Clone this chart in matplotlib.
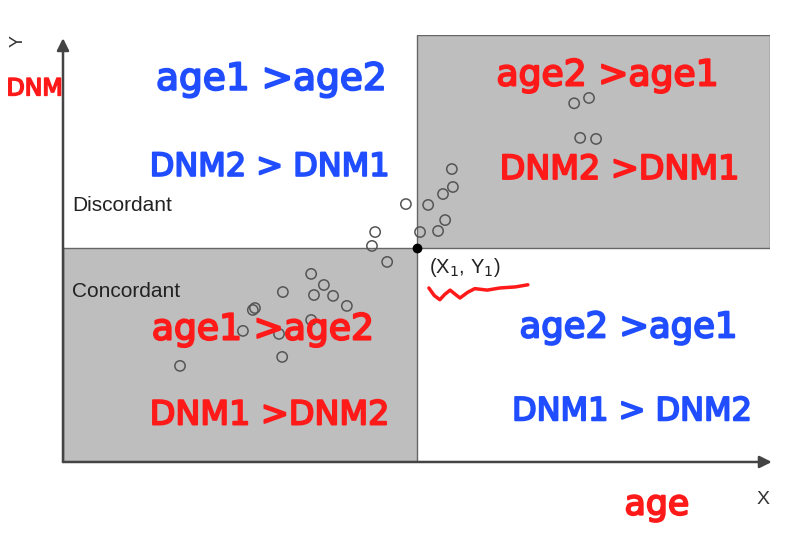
import matplotlib.pyplot as plt
from matplotlib.patches import Rectangle
import matplotlib.patheffects as pe

# scatter points (age, DNM), the reference pair sits at (10, 10)
age = [14.46, 14.88, 14.63, 15.08,
       11.0, 11.03, 10.75, 9.70, 10.33, 10.81, 8.83, 10.10, 10.61, 8.74, 9.17,
       7.02, 6.22, 7.38, 7.10, 7.64, 8.03, 5.43, 5.37, 5.09, 6.11, 7.02, 6.20, 3.31]
dnm = [16.8, 17.05, 15.18, 15.13,
       13.72, 12.88, 12.55, 12.08, 12.04, 11.33, 10.77, 10.77, 10.82, 10.12, 9.37,
       8.81, 7.96, 8.29, 7.82, 7.78, 7.31, 7.21, 7.12, 6.14, 6.0, 6.65, 4.92, 4.50]
x1, y1 = 10, 10

# red squiggle under (X1, Y1)
wave_x = [10.35, 10.5, 10.66, 10.8, 10.95, 11.1, 11.23, 11.45, 11.65, 12.0, 12.36, 12.8, 13.15]
wave_y = [8.15, 7.8, 7.6, 7.85, 8.05, 7.85, 7.68, 7.95, 8.12, 8.05, 8.15, 8.2, 8.3]

# handwritten notes: text, x, y, size, colour
blue = "#1f4dff"
red = "#ff1a1a"
notes = [
    ("age1 >age2", 5.9, 17.9, 27, blue),
    ("DNM2 > DNM1", 5.85, 13.8, 23, blue),
    ("age2 >age1", 15.4, 18.1, 26, red),
    ("DNM2 >DNM1", 15.75, 13.7, 24, red),
    ("age1 >age2", 5.65, 6.2, 26, red),
    ("DNM1 >DNM2", 5.85, 2.2, 24, red),
    ("age2 >age1", 16.0, 6.3, 25.5, blue),
    ("DNM1 > DNM2", 16.1, 2.35, 23, blue),
]

fig = plt.figure(figsize=(8, 5.43), dpi=100)
ax = fig.add_axes([0.07875, 0.1492, 0.88375, 0.7864])
ax.set_xlim(0, 20)
ax.set_ylim(0, 20)
ax.axis("off")

ax.add_patch(Rectangle((x1, y1), 10, 10, facecolor="#bebebe", edgecolor="#666666", lw=1, zorder=1))
ax.add_patch(Rectangle((0, 0), x1, y1, facecolor="#bebebe", edgecolor="#666666", lw=1, zorder=1))

# axes with arrows
arrow = dict(arrowstyle="-|>", color="#444444", lw=1.8, mutation_scale=18, shrinkA=0, shrinkB=0)
ax.annotate("", xy=(20.05, 0), xytext=(0, 0), arrowprops=arrow, annotation_clip=False, zorder=3)
ax.annotate("", xy=(0, 19.85), xytext=(0, 0), arrowprops=arrow, annotation_clip=False, zorder=3)

ax.scatter(age, dnm, s=55, facecolors="none", edgecolors="#555555", linewidths=1.1, zorder=4)
ax.plot([x1], [y1], "o", color="black", ms=6, zorder=5)

lab = dict(fontsize=15, color="#222222", family="Liberation Sans", va="center")
ax.text(0.25, 12.0, "Discordant", **lab)
ax.text(0.25, 8.0, "Concordant", **lab)
ax.text(10.35, 9.13, "(X$_1$, Y$_1$)", **dict(lab, fontsize=14.5))
ax.plot(wave_x, wave_y, color=red, lw=2.5, solid_capstyle="round", zorder=5)

ax.text(19.8, -1.78, "X", fontsize=14, color="#333333", family="Liberation Sans", ha="center", va="center")
ax.text(-1.27, 19.7, "Y", fontsize=13, color="#333333", family="Liberation Sans", ha="center",
        va="center", rotation=90, clip_on=False)

for txt, x, y, size, col in notes:
    ax.text(x, y, txt, color=col, family="DejaVu Sans", fontsize=size, ha="center", va="center",
            clip_on=False, path_effects=[pe.withStroke(linewidth=1.4, foreground=col)], zorder=6)

ax.text(-0.8, 17.5, "DNM", color=red, family="DejaVu Sans", fontsize=17, ha="center", va="center",
        path_effects=[pe.withStroke(linewidth=1.2, foreground=red)])
ax.text(16.8, -2.0, "age", color=red, family="DejaVu Sans", fontsize=25, ha="center", va="center",
        path_effects=[pe.withStroke(linewidth=1.4, foreground=red)])

fig.savefig("out.png", dpi=100)
